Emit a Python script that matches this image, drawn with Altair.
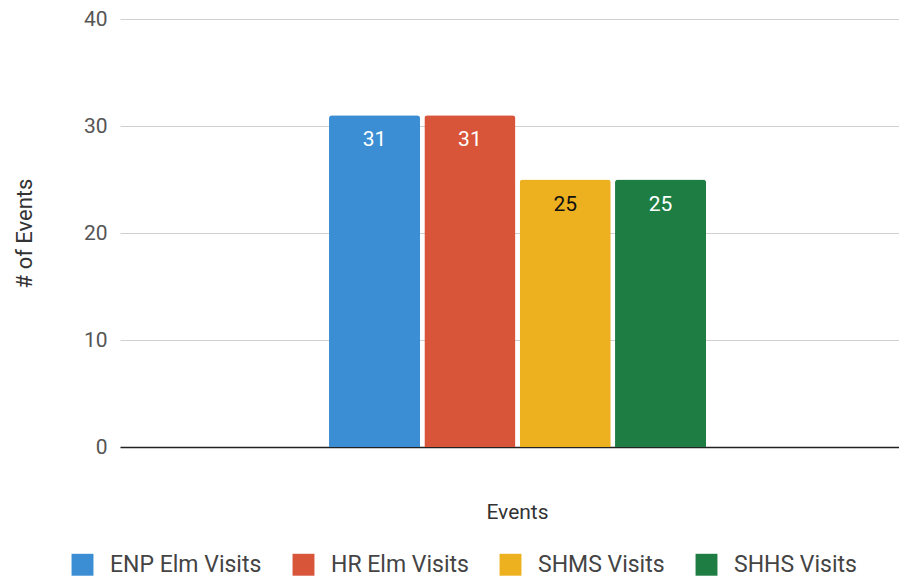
import altair as alt
import pandas as pd

categories = ["Events", "Events", "Events", "Events"]
series = ["ENP Elm Visits", "HR Elm Visits", "SHMS Visits", "SHHS Visits"]
values = [31, 31, 25, 25]
colors = ["#3b8ed3", "#d8553a", "#edb11f", "#1d7d43"]
y_ticks = [0, 10, 20, 30, 40]

df = pd.DataFrame({"category": categories, "series": series, "value": values})

FONT = "Roboto"

x = alt.X(
    "category:N",
    title="Events",
    scale=alt.Scale(paddingInner=0, paddingOuter=0.533, align=0.52),
    axis=alt.Axis(
        labels=False, ticks=False, domain=True, domainColor="#222", domainWidth=1.5,
        grid=False, titleFontSize=21, titleFontWeight="normal", titleColor="#333",
        titlePadding=54, titleFont=FONT, titleX=397,
    ),
)
xo = alt.XOffset("series:N", sort=series, scale=alt.Scale(paddingInner=0.045, paddingOuter=0))
y = alt.Y(
    "value:Q",
    title="# of Events",
    scale=alt.Scale(domain=[0, 40], nice=False),
    axis=alt.Axis(
        values=y_ticks, domain=False, ticks=False, labelPadding=13, labelFontSize=21,
        labelColor="#555", labelFont=FONT, gridColor="#d0d0d0", gridWidth=1,
        titleFontSize=22, titleFontWeight="normal", titleColor="#333", titleFont=FONT,
        titlePadding=47,
    ),
)

color = alt.Color(
    "series:N",
    sort=series,
    scale=alt.Scale(domain=series, range=colors),
    legend=alt.Legend(
        title=None, orient="none", direction="horizontal", legendX=-49, legendY=534,
        symbolType="square", symbolSize=480, symbolStrokeWidth=0, symbolOpacity=1,
        labelFontSize=23, labelColor="#444", labelFont=FONT, labelOffset=16,
        columnPadding=30, columns=4, padding=0,
    ),
)

bars = alt.Chart(df).mark_bar(cornerRadiusTopLeft=3, cornerRadiusTopRight=3).encode(
    x=x, xOffset=xo, y=y, color=color
)

labels = alt.Chart(df).mark_text(
    baseline="middle", dy=25, fontSize=21, font=FONT
).encode(
    x=x,
    xOffset=xo,
    y=y,
    text=alt.Text("value:Q"),
    color=alt.condition(alt.datum.series == "SHMS Visits", alt.value("#111"), alt.value("white")),
)

chart = (
    (bars + labels)
    .properties(
        width=779, height=428,
        padding={"left": 5, "top": 0, "right": 0, "bottom": 0},
    )
    .configure(font=FONT)
    .configure_view(stroke="transparent", strokeWidth=0)
    .configure_axisX(grid=False, ticks=False)
    .configure_axisY(domain=False, ticks=False)
)

chart.save("out.html", embed_options={"renderer": "svg", "actions": False})
